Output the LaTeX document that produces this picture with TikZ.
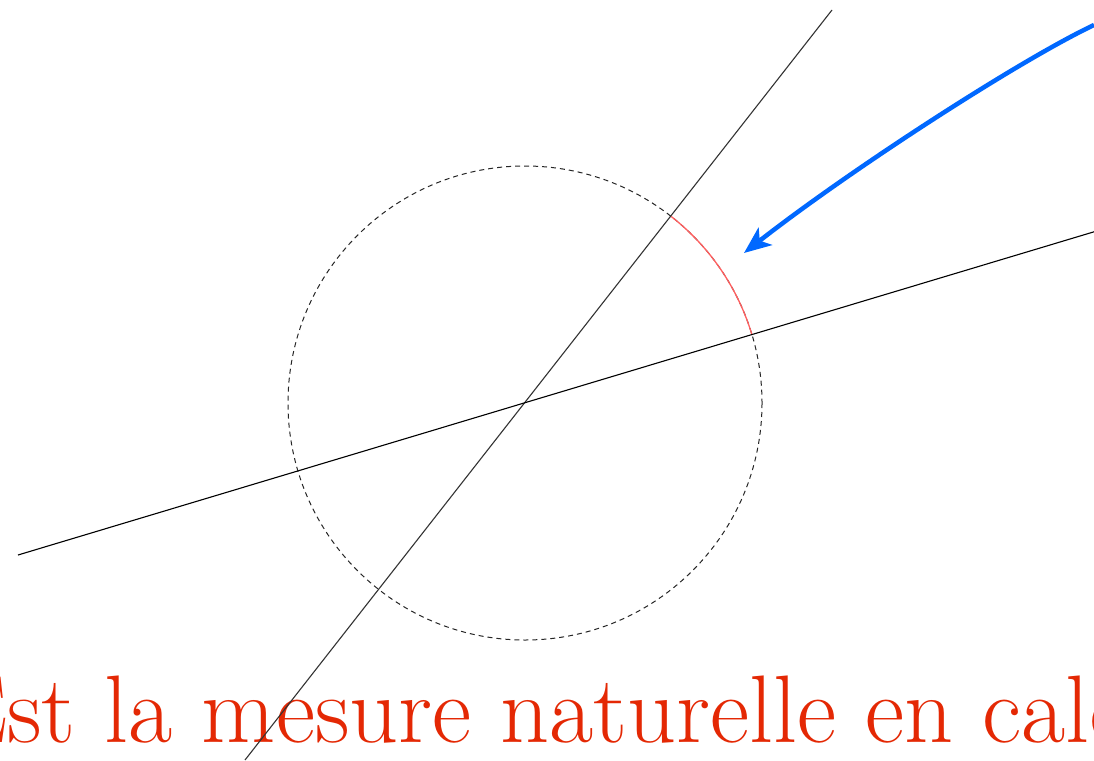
\documentclass[tikz,border=0pt]{standalone}
\usetikzlibrary{arrows.meta}
\definecolor{txtred}{RGB}{228,40,4}
\definecolor{arcred}{RGB}{255,95,95}
\definecolor{arrblue}{RGB}{0,104,255}
\tikzset{
  guide/.style={line width=1.1pt, draw=black!80},
  circ/.style={line width=1pt, dash pattern=on 5pt off 4pt, draw=black!85},
  angarc/.style={line width=1.3pt, draw=arcred},
  pointer/.style={line width=4.5pt, draw=arrblue, -{Stealth[length=27pt,width=22pt,inset=7pt]}},
  caption/.style={text=txtred, font=\fontsize{96}{100}\selectfont, inner sep=0pt, anchor=base west}
}
\begin{document}
\begin{tikzpicture}[x=1pt,y=-1pt]
  \clip (0,0) rectangle (1094,760);
  \fill[white] (0,0) rectangle (1094,760);
  \coordinate (O) at (525,403);
  \coordinate (A1) at (832,10);
  \coordinate (A2) at (245,760);
  \coordinate (B1) at (18,555);
  \coordinate (B2) at (1100,230);
  \coordinate (S) at (1094,25);
  \coordinate (T) at (744,253);
  \node[caption] (cap) at (-53,742) {Est la mesure naturelle en calcul};
  \draw[circ] (O) circle[radius=237];
  \draw[angarc] (O) ++(16.7:237 and -237) arc[start angle=-16.7, end angle=-51.9, radius=237];
  \draw[guide] (A1) -- (A2);
  \draw[guide, draw=black] (B1) -- (B2);
  \draw[pointer] (S) .. controls (1020,60) and (850,170) .. (T);
\end{tikzpicture}
\end{document}
